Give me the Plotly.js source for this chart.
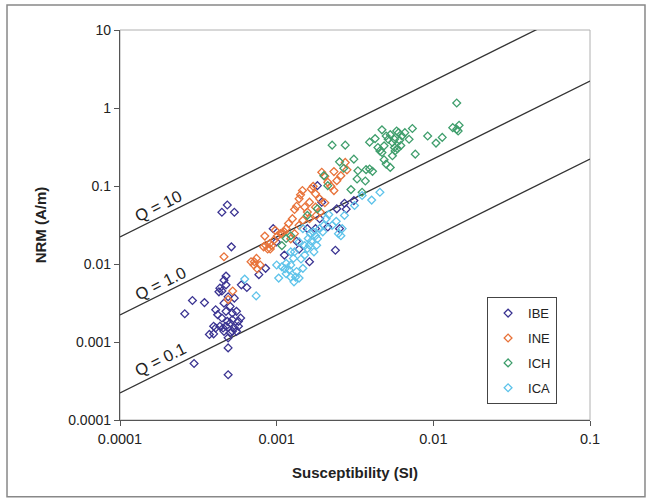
<!DOCTYPE html>
<html><head><meta charset="utf-8">
<script src="https://cdn.plot.ly/plotly-3.0.1.min.js"></script>
<style>html,body{margin:0;padding:0;background:#fff;}#chart{width:652px;height:498px;}</style>
</head><body><div id="chart"></div>
<script>
// Q = NRM / (k * H), reference lines
const qValues = [10, 1, 0.1];
const qLabels = ["Q = 10", "Q = 1.0", "Q = 0.1"];
const fieldH = 22.2; // A/m
const qLineX = [0.0001, 0.1];

const xTickVals = [0.0001, 0.001, 0.01, 0.1];
const xTickText = ["0.0001", "0.001", "0.01", "0.1"];
const yTickVals = [0.0001, 0.001, 0.01, 0.1, 1, 10];
const yTickText = ["0.0001", "0.001", "0.01", "0.1", "1", "10"];

const ibeK = [0.000484,0.000447,0.000537,0.000514,0.00029,0.000346,0.000259,0.000297,0.00049,0.00049,0.000396,
  0.000475,0.000461,0.000434,0.000475,0.000447,0.000428,0.00049,0.000595,0.000645,0.000537,0.000461,0.000505,0.000408,
  0.00042,0.000475,0.000521,0.000554,0.000589,0.00057,0.000396,0.000434,0.000475,0.000505,0.000537,0.000554,0.000461,
  0.000505,0.000372,0.00049,0.000521,0.000447,0.000521,0.000484,0.000455,0.000408,0.00057,
  0.00077,0.00085,0.00095,0.000995,0.00112,0.00134,0.00139,0.00162,0.00182,0.00194,0.00188,0.00177,0.00212,0.00237,
  0.00242,0.00271,0.00252,0.00311,0.00278,0.00157];
const ibeNRM = [0.057,0.046,0.046,0.0166,0.0034,0.0032,0.0023,0.00053,0.00038,0.00084,0.00127,
  0.0070,0.0062,0.0049,0.0054,0.0045,0.0044,0.0038,0.0054,0.0050,0.00365,0.00315,0.00286,0.00259,
  0.00224,0.00247,0.00235,0.00247,0.00203,0.00184,0.00159,0.00159,0.00159,0.00175,0.00151,0.00137,0.00137,
  0.00131,0.00125,0.00113,0.00137,0.00203,0.00193,0.00184,0.00151,0.00151,0.00159,
  0.0073,0.0088,0.0284,0.0192,0.0130,0.0196,0.0155,0.0107,0.101,0.062,0.038,0.0284,0.0298,0.0150,
  0.051,0.060,0.0284,0.065,0.0505,0.0284];

const ineK = [0.000461,0.000524,0.00049,0.000686,0.000716,0.000743,0.000752,0.000785,0.000825,0.00085,0.000903,
  0.000876,0.00093,0.00096,0.00101,0.00106,0.00112,0.00084,0.00091,0.00115,0.00119,0.00126,0.0013,0.00134,0.00139,
  0.00142,0.00146,0.00151,0.00157,0.00162,0.00166,0.00171,0.00177,0.00188,0.00194,0.00203,0.00212,0.00222,0.00232,
  0.00242,0.00257,0.00274,0.00281,0.00232,0.00139,0.00147,0.00179,0.0019,0.00123,0.0013,0.00177,0.00108,0.00098,
  0.00072,0.00203,0.00162];
const ineNRM = [0.0124,0.0045,0.0035,0.0107,0.0097,0.0118,0.0087,0.0097,0.0166,0.0174,0.0183,
  0.0156,0.0172,0.0202,0.0228,0.0245,0.0258,0.0228,0.0156,0.0284,0.033,0.0381,0.050,0.055,0.0685,
  0.077,0.0874,0.0536,0.0463,0.0381,0.0918,0.099,0.0793,0.0685,0.150,0.133,0.1115,0.099,0.0874,
  0.117,0.1356,0.2005,0.161,0.153,0.0313,0.0363,0.042,0.0463,0.021,0.0245,0.0536,0.0245,0.027,
  0.0107,0.061,0.062];

const ichK = [0.00108,0.00115,0.00123,0.00157,0.00182,0.002,0.00212,0.00226,0.00274,0.00252,0.00268,0.00298,0.00311,
  0.00351,0.00326,0.00368,0.00392,0.00409,0.0033,0.00372,
  0.00392,0.00425,0.00443,0.0047,0.005,0.00485,0.00531,0.00565,0.00583,0.00609,0.0063,0.00658,0.0070,0.00735,0.00767,
  0.0047,0.00485,0.005,0.00531,0.00548,0.0057,0.0059,0.0062,0.00565,0.00456,0.0092,0.0104,0.0114,0.0133,0.0141,0.0146,
  0.0141,0.0144,0.00515,0.00548,0.006];
const ichNRM = [0.0172,0.0212,0.023,0.042,0.051,0.1356,0.101,0.334,0.334,0.204,0.169,0.090,0.221,
  0.0832,0.123,0.116,0.165,0.154,0.157,0.162,
  0.365,0.405,0.311,0.525,0.438,0.327,0.455,0.397,0.507,0.385,0.438,0.483,0.397,0.546,0.256,
  0.269,0.217,0.191,0.173,0.244,0.282,0.30,0.33,0.311,0.282,0.438,0.355,0.42,0.56,0.533,0.60,
  1.16,0.507,0.397,0.361,0.483];

const icaK = [0.000625,0.00074,0.00100,0.00103,0.00108,0.00113,0.00115,0.00120,0.00123,0.00128,0.0013,0.00134,0.00129,
  0.00139,0.00132,0.00147,0.00151,0.00157,0.00162,0.00166,0.00171,0.00177,0.00182,0.00188,0.00197,0.002,0.00207,0.00215,
  0.00226,0.0024,0.00248,0.00257,0.00262,0.00271,0.00314,0.00351,0.00404,0.00456,0.00147,0.00139,0.00159,0.00164,
  0.00151,0.00173,0.00123,0.00143,0.0018,0.00123,0.00115];
const icaNRM = [0.0064,0.0039,0.0097,0.0066,0.0092,0.0087,0.0075,0.0084,0.0097,0.0118,0.0143,0.008,0.0059,
  0.0066,0.0068,0.0088,0.013,0.0158,0.0174,0.0196,0.0258,0.023,0.021,0.0284,0.0258,0.0313,0.0381,0.043,
  0.0313,0.0352,0.0245,0.023,0.0284,0.042,0.0563,0.0755,0.066,0.0832,0.0284,0.0192,0.0212,0.0245,
  0.0172,0.0143,0.0143,0.0116,0.0174,0.0068,0.0102];

const seriesNames = ["IBE", "INE", "ICH", "ICA"];
const seriesColors = ["#3b3492", "#e8733a", "#3f9e6c", "#5ec3ea"];
const seriesK = [ibeK, ineK, ichK, icaK];
const seriesNRM = [ibeNRM, ineNRM, ichNRM, icaNRM];

const traces = [];
qValues.forEach(q => {
  traces.push({x: qLineX, y: qLineX.map(k => q * fieldH * k), mode: "lines", type: "scatter",
    line: {color: "#333", width: 1.3}, showlegend: false, hoverinfo: "skip", cliponaxis: true});
});
seriesNames.forEach((n, i) => {
  traces.push({x: seriesK[i], y: seriesNRM[i], name: n, mode: "markers", type: "scatter", legendgroup: n,
    marker: {symbol: "diamond-open", size: 6, color: seriesColors[i], line: {width: 1.3, color: seriesColors[i]}}});
});

const qPos = [[-3.76, -1.25], [-3.74, -2.24], [-3.74, -3.22]];
const annotations = qLabels.map((t, i) => ({x: qPos[i][0], y: qPos[i][1], xref: "x", yref: "y", text: t,
  showarrow: false, textangle: -26.5, font: {family: "Liberation Sans, Arial, sans-serif", size: 16.5, color: "#222"}}));

const layout = {
  width: 652, height: 498,
  margin: {l: 120, r: 62, t: 30, b: 78},
  paper_bgcolor: "#fff", plot_bgcolor: "#fff",
  font: {family: "Liberation Sans, Arial, sans-serif", size: 14, color: "#222"},
  xaxis: {type: "log", range: [-4, -1], tickvals: xTickVals, ticktext: xTickText, showgrid: false, zeroline: false,
    showline: true, linecolor: "#555", linewidth: 1.2, ticks: "outside", ticklen: 5, tickcolor: "#555",
    tickfont: {size: 14.5}, title: {text: "<b>Susceptibility (SI)</b>", font: {size: 15}, standoff: 22}},
  yaxis: {type: "log", range: [-4, 1], tickvals: yTickVals, ticktext: yTickText, showgrid: false, zeroline: false,
    showline: true, linecolor: "#555", linewidth: 1.2, ticks: "outside", ticklen: 5, tickcolor: "#555",
    tickfont: {size: 14}, title: {text: "<b>NRM (A/m)</b>", font: {size: 15}, standoff: 18}},
  legend: {x: 0.781, y: 0.315, xanchor: "left", yanchor: "top", bgcolor: "#fff", bordercolor: "#444", borderwidth: 1,
    font: {size: 13}, tracegroupgap: 5, traceorder: "grouped", itemwidth: 30},
  showlegend: true,
  annotations: annotations,
  shapes: [
    {type: "rect", xref: "paper", yref: "paper", x0: 0, x1: 1, y0: 0, y1: 1, line: {color: "#b0b0b0", width: 1}, layer: "below"},
    {type: "rect", xref: "paper", yref: "paper", x0: -0.2404, x1: 1.117, y0: -0.197, y1: 1.064, line: {color: "#888", width: 1.5}, layer: "below"}
  ]
};
Plotly.newPlot("chart", traces, layout, {displayModeBar: false, staticPlot: true});
</script></body></html>
